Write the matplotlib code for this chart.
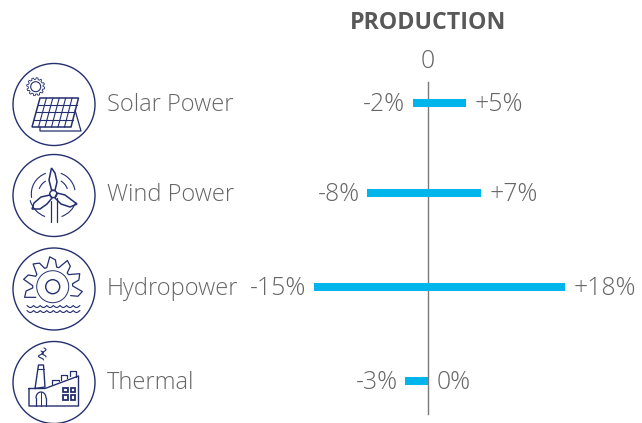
import numpy as np
import matplotlib
matplotlib.use("Agg")
import matplotlib.pyplot as plt
from matplotlib.patches import Circle, Polygon, Arc

categories = ["Solar Power", "Wind Power", "Hydropower", "Thermal"]
low = [-2, -8, -15, -3]
high = [5, 7, 18, 0]
title = "PRODUCTION"

W, H = 642, 423
GRAY = "#666666"
NAVY = "#232f6e"
CYAN = "#00b5ec"
FONT = ["Open Sans", "DejaVu Sans"]

fig = plt.figure(figsize=(W / 100, H / 100), dpi=100)
ax = fig.add_axes([0, 0, 1, 1])
ppu = 7.6
rows = [103, 193.5, 287, 381]  # row centres on the pixel-scaled y axis
ax.set_xlim(-428 / ppu, (W - 428) / ppu)
ax.set_ylim(H, 0)
ax.axis("off")

ax.axvline(0, ymin=1 - 414 / H, ymax=1 - 82 / H, color="#7a7a7a", lw=1.0, zorder=1)
ax.barh(rows, np.array(high) - np.array(low), left=low, height=8, color=CYAN, zorder=2)

def fmt(v):
    return f"{v:+d}%" if v else "0%"

VAL = 17.8
for r, c, a, b in zip(rows, categories, low, high):
    ax.annotate(fmt(a), (a, r), xytext=(-5.5, -0.8), textcoords="offset points", ha="right",
                va="center", fontsize=VAL, color=GRAY, family=FONT, fontweight="light")
    ax.annotate(fmt(b), (b, r), xytext=(6, -0.8), textcoords="offset points", ha="left",
                va="center", fontsize=VAL, color=GRAY, family=FONT, fontweight="light")
    ax.annotate(c, (107 / W, 1 - r / H), xycoords="axes fraction", xytext=(0, -1.2),
                textcoords="offset points", ha="left",
                va="center", fontsize=17, color=GRAY, family=FONT, fontweight="light")

ax.text(0, 62, "0", ha="center", va="center", fontsize=VAL, color=GRAY,
        family=FONT, fontweight="light")
ax.text(0, 23, title, ha="center", va="center", fontsize=16.7, color="#585858",
        family=FONT, fontweight="bold")

# decorative icons, drawn in pixel space
ic = fig.add_axes([0, 0, 1, 1], facecolor="none")
ic.set_xlim(0, W)
ic.set_ylim(H, 0)
ic.axis("off")
LW = 0.9

def line(xs, ys, lw=LW):
    ic.plot(xs, ys, color=NAVY, lw=lw, solid_capstyle="round", solid_joinstyle="round")

for cy in (104.5, 195.5, 289, 382.5):
    ic.add_patch(Circle((54, cy), 41, fill=False, ec=NAVY, lw=1.0, clip_on=False))

# solar
cx, cy = 35.7, 86.7
t = np.linspace(0, 2 * np.pi, 97)
r = 8.2 + 0.8 * np.sign(np.sin(12 * t))
line(cx + r * np.cos(t), cy + r * np.sin(t), 0.6)
ic.add_patch(Circle((cx, cy), 5.0, fill=False, ec=NAVY, lw=0.8))
tl, tr, br, bl = np.array([40, 98]), np.array([78.5, 98]), np.array([71, 127]), np.array([32, 127])
ic.add_patch(Polygon([tl, tr, br, bl], fill=False, ec=NAVY, lw=1.1))
for f in np.linspace(0, 1, 7)[1:-1]:
    p, q = tl + (tr - tl) * f, bl + (br - bl) * f
    line([p[0], q[0]], [p[1], q[1]], 0.8)
for f in np.linspace(0, 1, 5)[1:-1]:
    p, q = tl + (bl - tl) * f, tr + (br - tr) * f
    line([p[0], q[0]], [p[1], q[1]], 0.8)
line([40, 40, 81, 75], [127, 131, 131, 110])

# wind
hx, hy = 53.3, 194
ic.add_patch(Circle((hx, hy), 3.6, fill=False, ec=NAVY, lw=1.0))
ic.add_patch(Polygon([(51.5, 190), (49, 180), (51.5, 168), (55, 173), (57, 182), (55, 190.5)], fill=False, ec=NAVY, lw=1.1))
ic.add_patch(Polygon([(50, 195), (41, 197), (34, 203), (32, 209), (40, 209), (47, 204), (52, 198)], fill=False, ec=NAVY, lw=1.1))
ic.add_patch(Polygon([(57, 193), (65, 195), (77, 204), (70, 207), (61, 204), (55, 198)], fill=False, ec=NAVY, lw=1.1))
line([50.5, 50.5], [201, 222])
line([56.5, 56.5], [198, 222])
for a, b, rad in [(170, 250, 22), (290, 350, 22), (20, 70, 24), (110, 165, 24), (200, 240, 15), (300, 340, 15)]:
    ic.add_patch(Arc((hx, hy), 2 * rad, 2 * rad, theta1=a, theta2=b, ec=NAVY, lw=0.8))

# hydro
hx, hy = 52.7, 286.7
ic.add_patch(Circle((hx, hy), 7, fill=False, ec=NAVY, lw=1.0))
ic.add_patch(Circle((hx, hy), 16, fill=False, ec=NAVY, lw=0.7))
ang = np.radians(np.linspace(-195, 15, 7))
xs, ys = [], []
for a in ang:
    for da, rr in [(-0.30, 20), (-0.10, 30), (0.10, 27), (0.20, 20)]:
        xs.append(hx + rr * np.cos(a + da))
        ys.append(hy + rr * np.sin(a + da))
line(xs, ys, 0.9)
for wy in (306.5, 311.5):
    wx = np.linspace(27, 80, 160)
    line(wx, wy + 2 * np.abs(np.sin((wx - 27) / 6.6 * np.pi)) - 1, 0.8)

# thermal
line([29, 29, 78.5, 78.5, 45, 29], [388.5, 406, 406, 376, 388.5, 388.5], 1.0)
line([35, 38.5, 43.5, 45, 35], [388.5, 365, 365, 387, 388.5], 1.0)
line([38, 44], [369, 369], 0.8)
line([52, 52, 59, 59], [384, 380, 380, 381], 0.9)
line([61, 61, 67, 67], [380, 375, 375, 378], 0.9)
line([70, 70, 76, 76], [376, 371, 371, 377], 0.9)
th = np.linspace(np.pi, 0, 30)
line(41 + 5 * np.cos(th), 398 - 6 * np.sin(th), 0.9)
line([36, 36], [398, 406], 0.9)
line([46, 46], [398, 406], 0.9)
line([41, 41], [392, 406], 0.7)
for px in (63, 70.5):
    for py in (388, 395.5):
        ic.add_patch(plt.Rectangle((px, py), 4.5, 4.5, fill=False, ec=NAVY, lw=1.3))
sy = np.linspace(351, 360, 20)
line(41 + 2.5 * np.sin((sy - 351) * 0.9), sy, 0.8)
line(44 + 2 * np.sin((sy - 351) * 0.9), sy - 3, 0.8)

fig.savefig("out.png", dpi=100)
